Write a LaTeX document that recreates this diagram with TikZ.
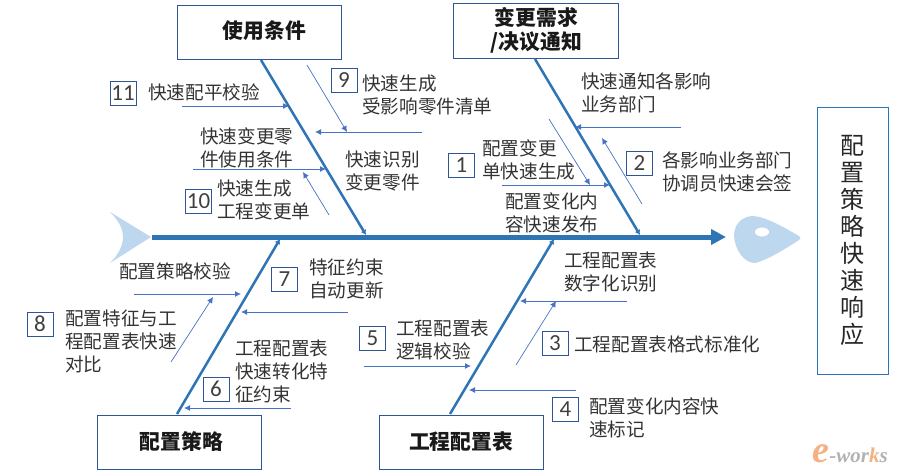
\documentclass[tikz,border=0pt]{standalone}
\usepackage{fontspec}
\setmainfont{Noto Sans CJK SC}
\newfontfamily\numfont{Carlito}
\newfontfamily\logofont{Liberation Serif}
\usepackage{tikz}
\usetikzlibrary{arrows.meta}
\definecolor{boneblue}{HTML}{2E75B6}
\definecolor{twigblue}{HTML}{4472C4}
\definecolor{edgeblue}{HTML}{2F5597}
\definecolor{fishblue}{HTML}{BDD7EE}
\definecolor{logoorange}{HTML}{F4B183}
\tikzset{
  bone/.style={draw=boneblue,line width=2.5pt,-{Latex[length=5pt,width=6pt]}},
  twig/.style={draw=twigblue,line width=1pt,-{Latex[length=6pt,width=6pt]}},
  thintwig/.style={draw=twigblue,line width=0.7pt,-{Latex[length=6pt,width=6pt]}},
  titlebox/.style={draw=edgeblue,line width=1pt,align=center,inner sep=0pt,text=black!90,
    font=\fontsize{20.8}{24}\selectfont\bfseries},
  numbox/.style={draw=edgeblue,line width=0.8pt,minimum width=26pt,minimum height=24pt,
    inner sep=0pt,text=black!75,font=\fontsize{23}{23}\selectfont\numfont},
  txt/.style={anchor=west,align=left,inner sep=0pt,text=black!80,xshift=-1pt,
    font=\fontsize{18.6}{23}\selectfont},
}
\begin{document}
\begin{tikzpicture}[x=1pt,y=-1pt]
\useasboundingbox (0,0) rectangle (897,474);

\fill[fishblue] (151,237) -- (110,212) .. controls (118,220) and (123,228) .. (123,237) .. controls (123,246) and (118,255) .. (110,263) -- cycle;
\fill[fishblue] (799,236) .. controls (785,228) and (765,216) .. (752,216) .. controls (740,217) and (734,226) .. (734,236) .. controls (735,250) and (744,263) .. (755,263) .. controls (768,260) and (790,246) .. (799,240) .. controls (801,239) and (801,237) .. (799,236) -- cycle;
\fill[white] (762,232) ellipse (7 and 4.5);

\node[titlebox,minimum width=164pt,minimum height=54pt] (usecond) at (259.5,32) {\hspace*{10pt}\raisebox{4pt}{使用条件}};
\node[titlebox,minimum width=165pt,minimum height=55pt] (change) at (535.5,30.5) {\hspace*{2pt}变更需求\\\hspace*{2pt}/决议通知};
\node[titlebox,minimum width=164pt,minimum height=54pt] (strategy) at (179,442) {\hspace*{5pt}\raisebox{-1pt}{配置策略}};
\node[titlebox,minimum width=164pt,minimum height=54pt] (table) at (461,442) {\raisebox{-1pt}{工程配置表}};
\node[draw=boneblue,line width=1pt,minimum width=71pt,minimum height=267pt,align=center,inner sep=0pt,text=black!85,
  font=\fontsize{24}{27}\selectfont] (goal) at (852.5,240.5) {配\\置\\策\\略\\快\\速\\响\\应};

\coordinate (tailend) at (152,237);
\coordinate (headend) at (726,237);
\draw[draw=boneblue,line width=5pt,-{Triangle[length=15pt,width=15pt]}] (tailend) -- (headend);

\coordinate (usefoot) at (261,60);
\coordinate (usejoin) at (366,235);
\coordinate (changefoot) at (535,59);
\coordinate (changejoin) at (640,235);
\coordinate (stratfoot) at (177,414);
\coordinate (stratjoin) at (280,239);
\coordinate (tablefoot) at (450,414);
\coordinate (tablejoin) at (554,239);
\draw[bone] (usefoot) -- (usejoin);
\draw[bone] (changefoot) -- (changejoin);
\draw[bone] (stratfoot) -- (stratjoin);
\draw[bone] (tablefoot) -- (tablejoin);

\coordinate (a11) at (182,106);   \coordinate (b11) at (289,106);
\coordinate (a9) at (422,132);    \coordinate (b9) at (315,132);
\coordinate (c9) at (307,65);     \coordinate (d9) at (347,132);
\coordinate (a12) at (193,169);   \coordinate (b12) at (326,169);
\coordinate (c10) at (329,215);   \coordinate (d10) at (303,172);
\coordinate (a1) at (502,185);    \coordinate (b1) at (610,185);
\coordinate (c1) at (549,119);    \coordinate (d1) at (590,185);
\coordinate (a2) at (681,127);    \coordinate (b2) at (575,127);
\coordinate (c2) at (642,204);    \coordinate (d2) at (602,138);
\coordinate (a8) at (134,294);    \coordinate (b8) at (241,294);
\coordinate (c8) at (171,362);    \coordinate (d8) at (213,297);
\coordinate (a7) at (348,312);    \coordinate (b7) at (241,312);
\coordinate (a6) at (291,408);    \coordinate (b6) at (184,408);
\coordinate (a5) at (364,366);    \coordinate (b5) at (471,366);
\coordinate (a3) at (627,301);    \coordinate (b3) at (520,301);
\coordinate (c3) at (516,365);    \coordinate (d3) at (556,301);
\coordinate (a4) at (576,390);    \coordinate (b4) at (469,390);
\draw[twig] (a11) -- (b11);
\draw[twig] (a9) -- (b9);
\draw[thintwig] (c9) -- (d9);
\draw[twig] (a12) -- (b12);
\draw[thintwig] (c10) -- (d10);
\draw[twig] (a1) -- (b1);
\draw[thintwig] (c1) -- (d1);
\draw[twig] (a2) -- (b2);
\draw[thintwig] (c2) -- (d2);
\draw[twig] (a8) -- (b8);
\draw[thintwig] (c8) -- (d8);
\draw[twig] (a7) -- (b7);
\draw[twig] (a6) -- (b6);
\draw[twig] (a5) -- (b5);
\draw[twig] (a3) -- (b3);
\draw[thintwig] (c3) -- (d3);
\draw[twig] (a4) -- (b4);

\node[numbox] (n11) at (123,93) {11};
\node[numbox] (n9) at (344,80) {9};
\node[numbox] (n10) at (198.5,201) {10};
\node[numbox] (n1) at (461.5,165) {1};
\node[numbox] (n2) at (639.5,163) {2};
\node[numbox] (n7) at (284.5,279) {7};
\node[numbox] (n8) at (40,324) {8};
\node[numbox] (n6) at (216,389) {6};
\node[numbox] (n5) at (372.5,338) {5};
\node[numbox] (n3) at (555,343) {3};
\node[numbox] (n4) at (565.5,409) {4};

\node[txt] (t11) at (149,92) {快速配平校验};
\node[txt] (t9) at (363,95) {快速生成\\受影响零件清单};
\node[txt] (t12) at (201,147.5) {快速变更零\\件使用条件};
\node[txt] (t13) at (346,171) {快速识别\\变更零件};
\node[txt] (t10) at (218,200) {快速生成\\工程变更单};
\node[txt] (t1) at (483,160) {配置变更\\单快速生成};
\node[txt] (t14) at (506,213) {配置变化内\\容快速发布};
\node[txt] (t15) at (582,93) {快速通知各影响\\业务部门};
\node[txt] (t2) at (663,172) {各影响业务部门\\协调员快速会签};
\node[txt] (t16) at (565,272) {工程配置表\\数字化识别};
\node[txt] (t3) at (575,344) {工程配置表格式标准化};
\node[txt] (t4) at (590,418) {配置变化内容快\\速标记};
\node[txt] (t5) at (397,340) {工程配置表\\逻辑校验};
\node[txt] (t7) at (310,279) {特征约束\\自动更新};
\node[txt] (t17) at (120,271) {配置策略校验};
\node[txt] (t8) at (66,341) {配置特征与工\\程配置表快速\\对比};
\node[txt] (t6) at (236,371) {工程配置表\\快速转化特\\征约束};

\node[anchor=south east,inner sep=0pt,font=\logofont\bfseries\itshape\fontsize{21}{21}\selectfont,text=gray!60] (logo) at (888,463)
  {\textcolor{logoorange}{\fontsize{38}{38}\selectfont e}-wor\textcolor{logoorange}{k}s};
\end{tikzpicture}
\end{document}
